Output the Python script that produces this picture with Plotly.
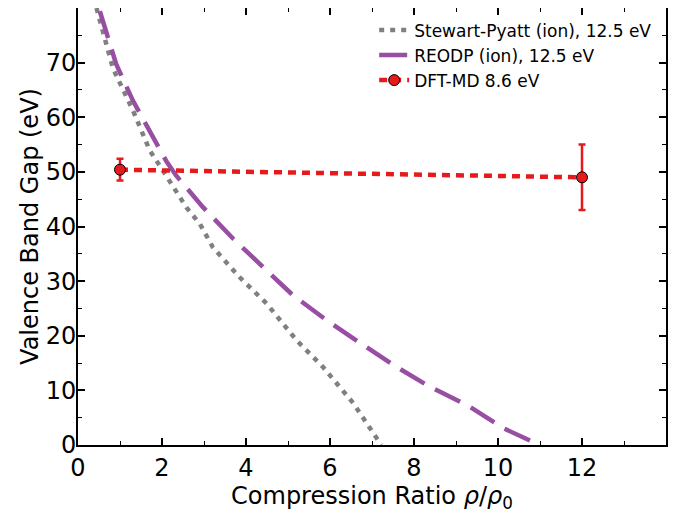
import plotly.graph_objects as go

# Stewart-Pyatt (ion), 12.5 eV
sp_x = [0.44, 0.83, 1.31, 1.71, 2.10, 2.58, 2.90, 3.21, 3.85, 4.49, 5.20, 5.83, 6.55, 7.10, 7.22]
sp_y = [80.0, 69.0, 61.2, 53.9, 49.3, 43.5, 40.5, 36.2, 30.7, 25.9, 19.2, 14.3, 7.7, 1.6, 0.0]

# REODP (ion), 12.5 eV
re_x = [0.52, 0.91, 1.31, 2.10, 2.34, 2.98, 3.69, 4.49, 5.12, 5.91, 6.23, 6.79, 7.58, 8.37, 9.33, 10.12, 10.99]
re_y = [79.4, 69.7, 63.0, 52.0, 49.3, 43.5, 37.8, 32.0, 27.4, 22.9, 21.3, 18.3, 14.3, 10.7, 7.0, 3.1, 0.0]

# DFT-MD 8.6 eV
dft_x = [1, 12]
dft_y = [50.4, 49.0]
dft_err = [2.0, 6.0]

x_ticks = [0, 2, 4, 6, 8, 10, 12]
y_ticks = [0, 10, 20, 30, 40, 50, 60, 70]

font = "DejaVu Sans"

fig = go.Figure()
fig.add_trace(go.Scatter(x=sp_x, y=sp_y, mode="lines", name="Stewart-Pyatt (ion), 12.5 eV",
                         line=dict(color="#808080", width=4.5, dash="5px,6px")))
fig.add_trace(go.Scatter(x=re_x, y=re_y, mode="lines", name="REODP (ion), 12.5 eV",
                         line=dict(color="#984ea3", width=4.5, dash="28px,12px")))
fig.add_trace(go.Scatter(x=dft_x, y=dft_y, mode="lines+markers", name="DFT-MD 8.6 eV",
                         line=dict(color="#e41a1c", width=4.5, dash="8px,6px"),
                         marker=dict(size=11, color="#e41a1c", line=dict(color="black", width=1)),
                         error_y=dict(type="data", array=dft_err, color="#e41a1c",
                                      thickness=2.5, width=3.5)))

axis_common = dict(showline=True, linecolor="black", linewidth=2, mirror="allticks",
                   ticks="inside", ticklen=7, tickwidth=1.5, tickcolor="black",
                   showgrid=False, zeroline=False, automargin=False,
                   tickfont=dict(family=font, size=24, color="black"))

fig.update_xaxes(range=[0, 14], tickvals=x_ticks,
                 minor=dict(dtick=1, ticks="inside", ticklen=4, tickcolor="black", tickwidth=1),
                 title=dict(text="Compression Ratio <i>ρ</i>/<i>ρ</i><sub>0</sub>",
                            font=dict(family=font, size=24, color="black"), standoff=2),
                 **axis_common)
fig.update_yaxes(range=[0, 80], tickvals=y_ticks, ticklabelstandoff=-5,
                 minor=dict(dtick=5, ticks="inside", ticklen=4, tickcolor="black", tickwidth=1),
                 title=dict(text="Valence Band Gap (eV)",
                            font=dict(family=font, size=24, color="black"), standoff=0),
                 **axis_common)

# the page body adds an 8px offset, so the margins make up for it
fig.update_layout(width=679, height=513, plot_bgcolor="white", paper_bgcolor="white",
                  margin=dict(l=70, r=21, t=0, b=76),
                  legend=dict(x=0.985, y=0.99, xanchor="right", yanchor="top",
                              bgcolor="rgba(0,0,0,0)",
                              font=dict(family=font, size=17, color="black")))

fig.write_html("out.html")
